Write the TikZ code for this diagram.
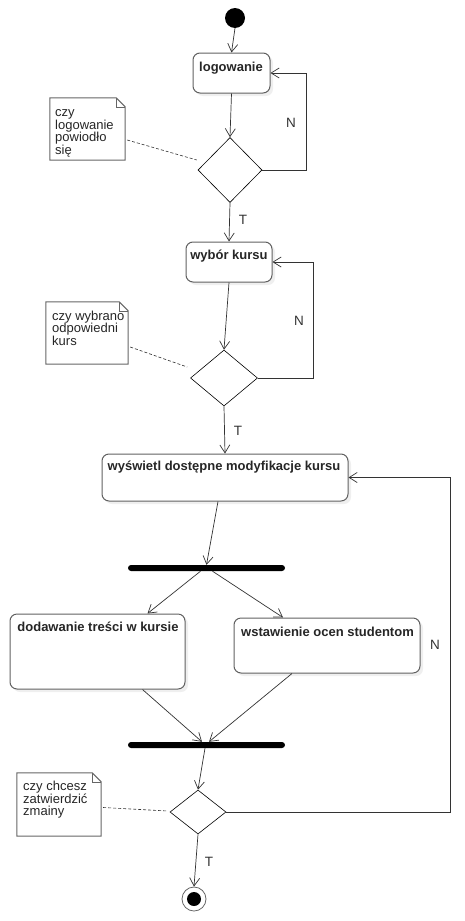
\documentclass[tikz,border=0pt]{standalone}
\usepackage{fontspec}
\setmainfont{Liberation Sans}
\usetikzlibrary{arrows.meta,shapes.geometric,calc,shadows}
\begin{document}
\begin{tikzpicture}[x=1pt,y=-1pt,
  act/.style={draw=black!62, line width=1pt, rounded corners=7pt, fill=white, inner sep=0pt,
    drop shadow={opacity=0.12,shadow xshift=3pt,shadow yshift=-3pt}},
  lbl/.style={font=\bfseries\fontsize{13}{14}\selectfont, inner sep=0pt, text=black!85},
  dec/.style={diamond, draw=black, line width=0.6pt, fill=white, inner sep=0pt},
  bar/.style={fill=black, rounded corners=3pt, minimum width=157pt, minimum height=6pt, inner sep=0pt},
  notebox/.style={inner sep=0pt, draw=none},
  notetxt/.style={font=\fontsize{13}{12.5}\selectfont, align=left, inner sep=0pt, anchor=base west, text=black!85},
  notefrm/.style={draw=black!60, line width=1pt},
  flow/.style={draw=black!80, line width=0.7pt, -{Straight Barb[length=8pt,width=10pt]}},
  link/.style={draw=black!80, line width=0.6pt, dashed, dash pattern=on 3pt off 2pt},
  yn/.style={font=\fontsize{13.5}{14}\selectfont, inner sep=0pt, text=black!80}
]
\useasboundingbox (0,0) rectangle (465,921);
\fill[white] (0,0) rectangle (465,921);

% start / end
\node[circle, fill=black, minimum size=20pt, inner sep=0pt] (start) at (235,18) {};
\node[circle, draw=black!60, line width=0.8pt, fill=white, minimum size=24pt, inner sep=0pt] (end) at (194,899) {};
\node[circle, fill=black, minimum size=14pt, inner sep=0pt] (endin) at (194,899) {};

% activities
\node[act, minimum width=77pt, minimum height=40pt] (b1) at (231.5,73) {};
\node[lbl] (t1) at (231,68) {logowanie};
\node[act, minimum width=86pt, minimum height=40pt] (b2) at (229,262) {};
\node[lbl] (t2) at (229,256) {wybór kursu};
\node[act, minimum width=246pt, minimum height=47pt] (b3) at (225,477.5) {};
\node[lbl] (t3) at (224,467) {wyświetl dostępne modyfikacje kursu};
\node[act, minimum width=175pt, minimum height=75pt] (b4) at (97.5,651.5) {};
\node[lbl] (t4) at (98,627) {dodawanie treści w kursie};
\node[act, minimum width=186pt, minimum height=55pt] (b5) at (327,645.5) {};
\node[lbl] (t5) at (327.5,632) {wstawienie ocen studentom};

% decisions
\node[dec, minimum width=64pt, minimum height=65pt] (d1) at (230,170) {};
\node[dec, minimum width=67pt, minimum height=56pt] (d2) at (224,378) {};
\node[dec, minimum width=56pt, minimum height=44pt] (d3) at (198,812) {};

% fork / join
\node[bar] (fork) at (206.5,568) {};
\node[bar] (join) at (206.5,745) {};

% notes
\node[notebox, minimum width=75pt, minimum height=62pt] (n1) at (87.5,129) {};
\draw[notefrm] (n1.north west) -- ($(n1.north east)+(-9,0)$) -- ($(n1.north east)+(0,9)$) -- (n1.south east) -- (n1.south west) -- cycle;
\draw[draw=black!60, line width=0.6pt] ($(n1.north east)+(-9,0)$) -- ($(n1.north east)+(-9,9)$) -- ($(n1.north east)+(0,9)$);
\node[notetxt] (nt1) at (55,154) {czy\\logowanie\\powiodło\\się};

\node[notebox, minimum width=82pt, minimum height=62pt] (n2) at (87,333) {};
\draw[notefrm] (n2.north west) -- ($(n2.north east)+(-9,0)$) -- ($(n2.north east)+(0,9)$) -- (n2.south east) -- (n2.south west) -- cycle;
\draw[draw=black!60, line width=0.6pt] ($(n2.north east)+(-9,0)$) -- ($(n2.north east)+(-9,9)$) -- ($(n2.north east)+(0,9)$);
\node[notetxt] (nt2) at (52,345) {czy wybrano\\odpowiedni\\kurs};

\node[notebox, minimum width=84pt, minimum height=63pt] (n3) at (59,804.5) {};
\draw[notefrm] (n3.north west) -- ($(n3.north east)+(-9,0)$) -- ($(n3.north east)+(0,9)$) -- (n3.south east) -- (n3.south west) -- cycle;
\draw[draw=black!60, line width=0.6pt] ($(n3.north east)+(-9,0)$) -- ($(n3.north east)+(-9,9)$) -- ($(n3.north east)+(0,9)$);
\node[notetxt] (nt3) at (23,815.5) {czy chcesz\\zatwierdzić\\zmainy};

% note links
\draw[link] ($(n1.east)+(2,11)$) -- ($(d1.west)+(-1,-10)$);
\draw[link] ($(n2.east)+(2,14)$) -- ($(d2.west)+(-3,-11)$);
\draw[link] ($(n3.east)+(2,3)$) -- ($(d3.west)+(-2,-1)$);

% flows
\draw[flow] (start.south) -- (b1.north);
\draw[flow] (b1.south) -- (d1.north);
\draw[flow] (d1.south) -- (b2.north);
\draw[flow] (d1.east) -- ++(44,0) |- (b1.east);
\draw[flow] (b2.south) -- (d2.north);
\draw[flow] (d2.east) -- ++(56,0) |- (b2.east);
\draw[flow] (d2.south) -- (b3.north);
\draw[flow] ($(b3.south)+(-7,0)$) -- (fork.north);
\draw[flow] ($(fork.south)+(-6,0)$) -- ($(b4.north)+(50,0)$);
\draw[flow] ($(fork.south)+(6,0)$) -- ($(b5.north)+(-44,0)$);
\draw[flow] ($(b4.south)+(45,0)$) -- ($(join.north)+(-4.5,0)$);
\draw[flow] ($(b5.south)+(-35,0)$) -- ($(join.north)+(2.5,0)$);
\draw[flow] ($(join.south)+(-1.5,0)$) -- (d3.north);
\draw[flow] (d3.east) -- ++(224,0) |- (b3.east);
\draw[flow] (d3.south) -- (end.north);

% guards
\node[yn] (g1) at (291,123) {N};
\node[yn] (g2) at (243,220) {T};
\node[yn] (g3) at (299,321) {N};
\node[yn] (g4) at (238,431) {T};
\node[yn] (g5) at (435,645) {N};
\node[yn] (g6) at (209,862) {T};
\end{tikzpicture}
\end{document}
